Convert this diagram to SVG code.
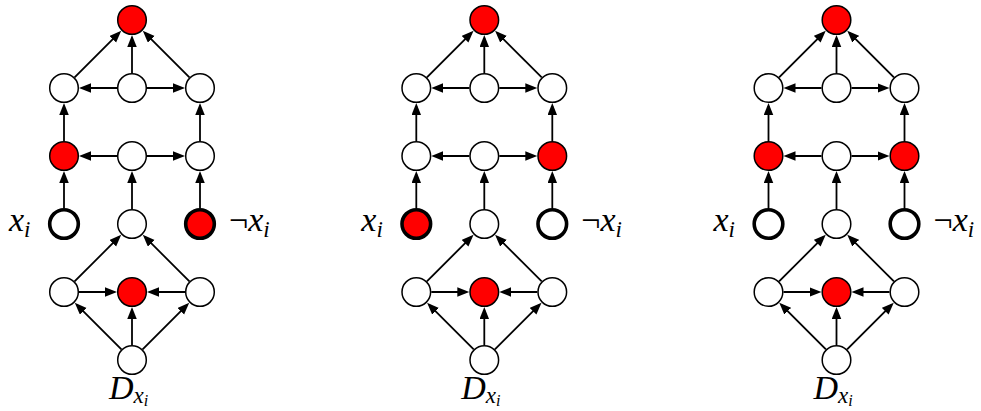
<svg xmlns="http://www.w3.org/2000/svg" width="981" height="411" viewBox="0 0 981 411">
<style>
.n{fill:#fff;stroke:#000;stroke-width:1.5}
.r{fill:#f00}
.t{stroke-width:3.6}
.e{fill:none;stroke:#000;stroke-width:1.8}
.lb{font-family:"Liberation Serif",serif;font-size:34px;fill:#000}
.it{font-style:italic}
</style>
<defs>
<marker id="ah" markerUnits="userSpaceOnUse" markerWidth="13" markerHeight="10" refX="9" refY="4.75" orient="auto">
<path d="M0,0 L12,4.75 L0,9.5 z" fill="#000"/>
</marker>
<g id="edges">
<path class="e" marker-end="url(#ah)" d="M-57.4,77.4 L-12.9,32.9"/>
<path class="e" marker-end="url(#ah)" d="M0,73 L0,38"/>
<path class="e" marker-end="url(#ah)" d="M57.4,77.4 L12.9,32.9"/>
<path class="e" marker-end="url(#ah)" d="M-15,88 L-50,88"/>
<path class="e" marker-end="url(#ah)" d="M15,88 L50,88"/>
<path class="e" marker-end="url(#ah)" d="M-68,141 L-68,106"/>
<path class="e" marker-end="url(#ah)" d="M68,141 L68,106"/>
<path class="e" marker-end="url(#ah)" d="M-15,156 L-50,156"/>
<path class="e" marker-end="url(#ah)" d="M15,156 L50,156"/>
<path class="e" marker-end="url(#ah)" d="M-68,208 L-68,174"/>
<path class="e" marker-end="url(#ah)" d="M0,209 L0,174"/>
<path class="e" marker-end="url(#ah)" d="M68,208 L68,174"/>
<path class="e" marker-end="url(#ah)" d="M-57.4,281.4 L-12.9,236.9"/>
<path class="e" marker-end="url(#ah)" d="M57.4,281.4 L12.9,236.9"/>
<path class="e" marker-end="url(#ah)" d="M-53,292 L-18,292"/>
<path class="e" marker-end="url(#ah)" d="M53,292 L18,292"/>
<path class="e" marker-end="url(#ah)" d="M-10.6,349.4 L-55.1,304.9"/>
<path class="e" marker-end="url(#ah)" d="M0,345 L0,310"/>
<path class="e" marker-end="url(#ah)" d="M10.6,349.4 L55.1,304.9"/>
</g>
</defs>

<g id="diagram1" transform="translate(132,0)">
<g id="d1-connectors"><use href="#edges"/></g>
<g id="d1-top"><circle class="n r" cx="0" cy="20" r="14.3"/></g>
<g id="d1-r2l"><circle class="n" cx="-68" cy="88" r="14.3"/></g>
<g id="d1-r2m"><circle class="n" cx="0" cy="88" r="14.3"/></g>
<g id="d1-r2r"><circle class="n" cx="68" cy="88" r="14.3"/></g>
<g id="d1-r3l"><circle class="n r" cx="-68" cy="156" r="14.3"/></g>
<g id="d1-r3m"><circle class="n" cx="0" cy="156" r="14.3"/></g>
<g id="d1-r3r"><circle class="n" cx="68" cy="156" r="14.3"/></g>
<g id="d1-xi"><circle class="n t" cx="-68" cy="224" r="14.3"/><text class="lb it" x="-123" y="231">x<tspan font-size="23" dy="6">i</tspan></text></g>
<g id="d1-r4m"><circle class="n" cx="0" cy="224" r="14.3"/></g>
<g id="d1-nxi"><circle class="n t r" cx="68" cy="224" r="14.3"/><text class="lb" x="97" y="231">¬<tspan class="it">x</tspan><tspan class="it" font-size="23" dy="6">i</tspan></text></g>
<g id="d1-r5l"><circle class="n" cx="-68" cy="292" r="14.3"/></g>
<g id="d1-r5m"><circle class="n r" cx="0" cy="292" r="14.3"/></g>
<g id="d1-r5r"><circle class="n" cx="68" cy="292" r="14.3"/></g>
<g id="d1-d"><circle class="n" cx="0" cy="360" r="14.3"/><text class="lb it" x="-23" y="399">D<tspan font-size="23" dy="4">x</tspan><tspan font-size="16" dy="3">i</tspan></text></g>
</g>

<g id="diagram2" transform="translate(484.3,0)">
<g id="d2-connectors"><use href="#edges"/></g>
<g id="d2-top"><circle class="n r" cx="0" cy="20" r="14.3"/></g>
<g id="d2-r2l"><circle class="n" cx="-68" cy="88" r="14.3"/></g>
<g id="d2-r2m"><circle class="n" cx="0" cy="88" r="14.3"/></g>
<g id="d2-r2r"><circle class="n" cx="68" cy="88" r="14.3"/></g>
<g id="d2-r3l"><circle class="n" cx="-68" cy="156" r="14.3"/></g>
<g id="d2-r3m"><circle class="n" cx="0" cy="156" r="14.3"/></g>
<g id="d2-r3r"><circle class="n r" cx="68" cy="156" r="14.3"/></g>
<g id="d2-xi"><circle class="n t r" cx="-68" cy="224" r="14.3"/><text class="lb it" x="-123" y="231">x<tspan font-size="23" dy="6">i</tspan></text></g>
<g id="d2-r4m"><circle class="n" cx="0" cy="224" r="14.3"/></g>
<g id="d2-nxi"><circle class="n t" cx="68" cy="224" r="14.3"/><text class="lb" x="97" y="231">¬<tspan class="it">x</tspan><tspan class="it" font-size="23" dy="6">i</tspan></text></g>
<g id="d2-r5l"><circle class="n" cx="-68" cy="292" r="14.3"/></g>
<g id="d2-r5m"><circle class="n r" cx="0" cy="292" r="14.3"/></g>
<g id="d2-r5r"><circle class="n" cx="68" cy="292" r="14.3"/></g>
<g id="d2-d"><circle class="n" cx="0" cy="360" r="14.3"/><text class="lb it" x="-23" y="399">D<tspan font-size="23" dy="4">x</tspan><tspan font-size="16" dy="3">i</tspan></text></g>
</g>

<g id="diagram3" transform="translate(836.5,0)">
<g id="d3-connectors"><use href="#edges"/></g>
<g id="d3-top"><circle class="n r" cx="0" cy="20" r="14.3"/></g>
<g id="d3-r2l"><circle class="n" cx="-68" cy="88" r="14.3"/></g>
<g id="d3-r2m"><circle class="n" cx="0" cy="88" r="14.3"/></g>
<g id="d3-r2r"><circle class="n" cx="68" cy="88" r="14.3"/></g>
<g id="d3-r3l"><circle class="n r" cx="-68" cy="156" r="14.3"/></g>
<g id="d3-r3m"><circle class="n" cx="0" cy="156" r="14.3"/></g>
<g id="d3-r3r"><circle class="n r" cx="68" cy="156" r="14.3"/></g>
<g id="d3-xi"><circle class="n t" cx="-68" cy="224" r="14.3"/><text class="lb it" x="-123" y="231">x<tspan font-size="23" dy="6">i</tspan></text></g>
<g id="d3-r4m"><circle class="n" cx="0" cy="224" r="14.3"/></g>
<g id="d3-nxi"><circle class="n t" cx="68" cy="224" r="14.3"/><text class="lb" x="97" y="231">¬<tspan class="it">x</tspan><tspan class="it" font-size="23" dy="6">i</tspan></text></g>
<g id="d3-r5l"><circle class="n" cx="-68" cy="292" r="14.3"/></g>
<g id="d3-r5m"><circle class="n r" cx="0" cy="292" r="14.3"/></g>
<g id="d3-r5r"><circle class="n" cx="68" cy="292" r="14.3"/></g>
<g id="d3-d"><circle class="n" cx="0" cy="360" r="14.3"/><text class="lb it" x="-23" y="399">D<tspan font-size="23" dy="4">x</tspan><tspan font-size="16" dy="3">i</tspan></text></g>
</g>
</svg>
